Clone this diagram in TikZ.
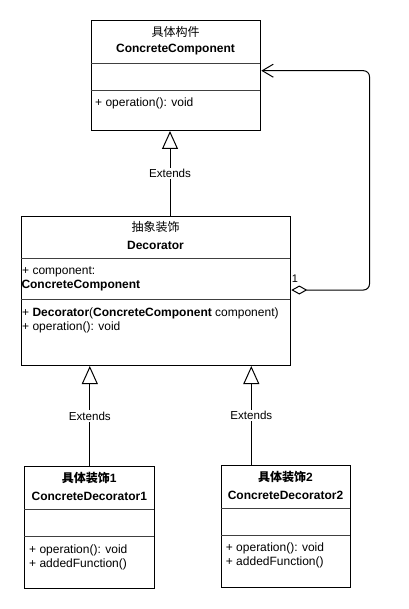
\documentclass[tikz,border=0pt]{standalone}
\usepackage{fontspec}
\setmainfont{Liberation Sans}
\newfontfamily\cjk{Noto Sans CJK SC}
\usetikzlibrary{arrows.meta}
\tikzset{
  umlbox/.style={draw, line width=1pt, inner sep=0pt, anchor=north west},
  divider/.style={line width=0.8pt, black!75},
  ttl/.style={inner sep=0pt, anchor=center, font=\fontsize{12pt}{14pt}\selectfont},
  mem/.style={inner sep=0pt, anchor=west, font=\fontsize{12pt}{14pt}\selectfont},
  lbl/.style={fill=white, inner sep=1.5pt, font=\fontsize{11.6pt}{13pt}\selectfont},
  ext/.style={line width=1pt, -{Triangle[open, length=18pt, width=16pt, fill=white]}},
  agg/.style={line width=1pt, rounded corners=6pt, {Diamond[open, length=16pt, width=9pt, fill=white]}-{Straight Barb[length=11pt, width=13pt]}}
}
\begin{document}
\begin{tikzpicture}[x=1pt, y=-1pt]
\useasboundingbox[fill=white] (0,0) rectangle (408,609);

% ConcreteComponent
\node[umlbox, minimum width=169.6pt, minimum height=110pt] (cc) at (90.7,20) {};
\draw[divider] (90.7,63.3) -- (260.3,63.3);
\draw[divider] (90.7,90.3) -- (260.3,90.3);
\node[ttl] (cct1) at (175.5,31.7) {{\cjk 具体构件}};
\node[ttl] (cct2) at (175.5,50) {\textbf{ConcreteComponent}};
\node[mem] (ccm1) at (95,103) {+ operation(): void};

% Decorator
\node[umlbox, minimum width=269.6pt, minimum height=149.3pt] (dec) at (20.7,215.7) {};
\draw[divider] (20.7,258.3) -- (290.3,258.3);
\draw[divider] (20.7,299.3) -- (290.3,299.3);
\node[ttl] (dect1) at (155.5,227.3) {{\cjk 抽象装饰}};
\node[ttl] (dect2) at (155.5,245) {\textbf{Decorator}};
\node[mem] (deca1) at (22,272.3) {+ component:};
\node[mem] (deca2) at (21.3,286) {\textbf{ConcreteComponent}};
\node[mem] (decm1) at (22,313.3) {+ \textbf{Decorator}(\textbf{ConcreteComponent} component)};
\node[mem] (decm2) at (22,327) {+ operation(): void};

% ConcreteDecorator1
\node[umlbox, minimum width=130pt, minimum height=121.7pt] (cd1) at (24.3,466) {};
\draw[divider] (24.3,509.3) -- (154.3,509.3);
\draw[divider] (24.3,536) -- (154.3,536);
\node[ttl] (cd1t1) at (89.3,478.3) {\textbf{{\cjk 具体装饰}1}};
\node[ttl] (cd1t2) at (89.3,496.7) {\textbf{ConcreteDecorator1}};
\node[mem] (cd1m1) at (29,550) {+ operation(): void};
\node[mem] (cd1m2) at (29,564) {+ addedFunction()};

% ConcreteDecorator2
\node[umlbox, minimum width=129.6pt, minimum height=122pt] (cd2) at (220.7,465) {};
\draw[divider] (220.7,508.3) -- (350.3,508.3);
\draw[divider] (220.7,535.3) -- (350.3,535.3);
\node[ttl] (cd2t1) at (285.5,477.3) {\textbf{{\cjk 具体装饰}2}};
\node[ttl] (cd2t2) at (285.5,495) {\textbf{ConcreteDecorator2}};
\node[mem] (cd2m1) at (225.7,548.7) {+ operation(): void};
\node[mem] (cd2m2) at (225.7,562.7) {+ addedFunction()};

% Generalisation connectors
\coordinate (e1) at (170,0);
\coordinate (e3) at (251.3,0);
\draw[ext] (dec.north -| e1) -- node[lbl] (x1) {Extends} (cc.south -| e1);
\draw[ext] (cd1.north) -- node[lbl] (x2) {Extends} (dec.south -| cd1.north);
\draw[ext] (cd2.north -| e3) -- node[lbl] (x3) {Extends} (dec.south -| e3);

% Aggregation
\coordinate (ay) at (0,290);
\coordinate (ty) at (0,70.7);
\coordinate (rx) at (369.5,0);
\draw[agg] (dec.east |- ay) -- (rx |- ay) -- (rx |- ty) -- (cc.east |- ty);
\node[inner sep=0pt, font=\fontsize{11pt}{13pt}\selectfont] (one) at (295,279) {1};
\end{tikzpicture}
\end{document}
